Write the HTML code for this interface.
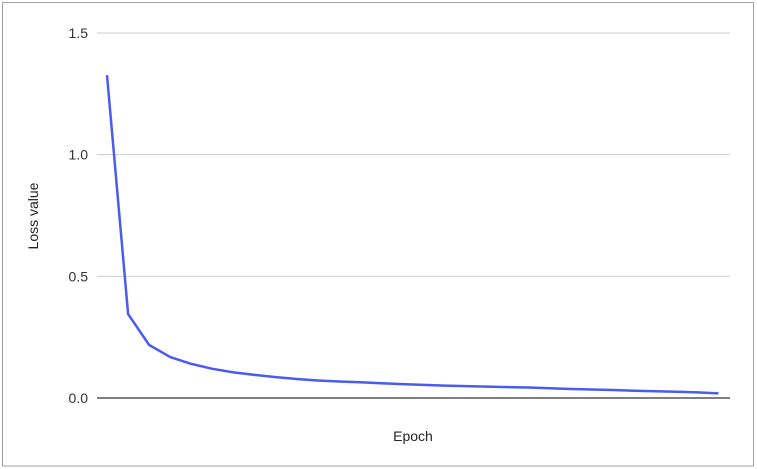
<!DOCTYPE html>
<html><head><meta charset="utf-8"><style>
html,body{margin:0;padding:0;background:#fff;}
svg{display:block;font-family:"Liberation Sans",Arial,sans-serif;}
</style></head><body>
<svg id="chart" width="757" height="469">
<rect x="2.5" y="2.5" width="751" height="463.5" fill="#fff" stroke="#a0a0a0" stroke-width="1"/>
<g id="grid"></g>
<g id="yticks"></g>
<path id="line" fill="none" stroke="#4a5cf0" stroke-width="2.5" stroke-linejoin="round"/>
<text x="413" y="441" font-size="14" text-anchor="middle" fill="#222">Epoch</text>
<text transform="translate(38,216) rotate(-90)" font-size="14" text-anchor="middle" fill="#222">Loss value</text>
</svg>
<script>
const yTicks = [0, 0.5, 1.0, 1.5];
const yTickLabels = ["0.0", "0.5", "1.0", "1.5"];
const lossValues = [1.327,0.345,0.218,0.168,0.140,0.120,0.105,0.095,0.086,0.078,0.072,0.068,0.065,0.061,0.057,0.054,0.051,0.049,0.047,0.045,0.043,0.040,0.037,0.035,0.033,0.030,0.028,0.026,0.023,0.019];
const epochs = lossValues.map((_, i) => i + 1);

const ns = "http://www.w3.org/2000/svg";
const plotL = 97, plotR = 730, y0 = 398, y1 = 33, firstX = 107, lastX = 718.5;
const yScale = v => y0 - (v / 1.5) * (y0 - y1);
const xScale = e => firstX + (e - 1) * (lastX - firstX) / (epochs.length - 1);

const grid = document.getElementById('grid');
const yt = document.getElementById('yticks');
yTicks.forEach((t, i) => {
  const l = document.createElementNS(ns, 'line');
  l.setAttribute('x1', plotL); l.setAttribute('x2', plotR);
  l.setAttribute('y1', yScale(t)); l.setAttribute('y2', yScale(t));
  l.setAttribute('stroke', t === 0 ? '#333' : '#ccc');
  l.setAttribute('stroke-width', t === 0 ? 1.3 : 1);
  
  
  grid.appendChild(l);
  const tx = document.createElementNS(ns, 'text');
  tx.setAttribute('x', 88); tx.setAttribute('y', yScale(t) + 5);
  tx.setAttribute('text-anchor', 'end'); tx.setAttribute('font-size', '14'); tx.setAttribute('fill', '#333');
  tx.textContent = yTickLabels[i];
  
  
  yt.appendChild(tx);
});
document.getElementById('line').setAttribute('d',
  lossValues.map((v, i) => (i ? 'L' : 'M') + xScale(epochs[i]).toFixed(1) + ',' + yScale(v).toFixed(1)).join(' '));
</script>
</body></html>
